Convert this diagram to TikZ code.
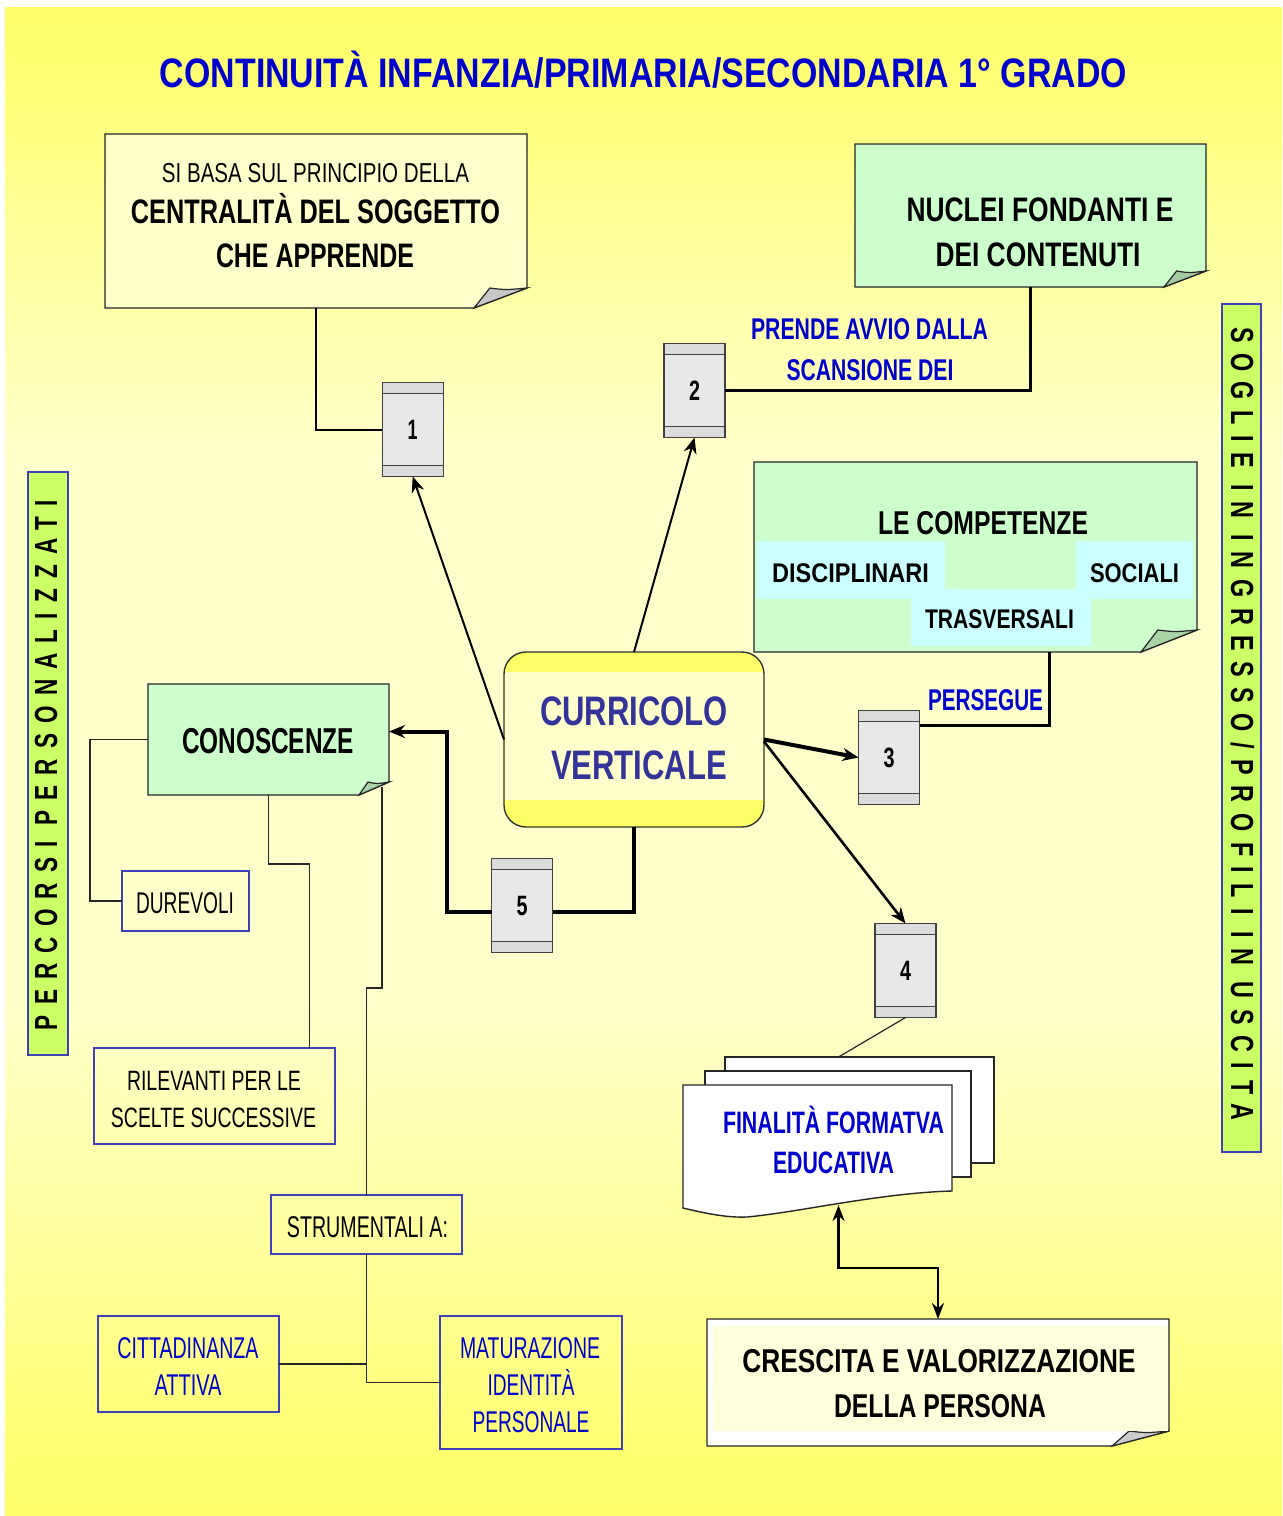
\documentclass[tikz,border=0pt]{standalone}
\usepackage{fontspec}
\setmainfont{Liberation Sans}
\usepackage{graphicx}
\usetikzlibrary{arrows.meta,fit}
\newdimen\px \px=0.5pt
\newcommand\fw[2]{\resizebox{#1\px}{\height}{#2}}
\newcommand\wgap{\hspace{0.7em}}
\definecolor{bgY}{HTML}{FFFF66}
\definecolor{bgP}{HTML}{FFFFCC}
\definecolor{tblue}{HTML}{0000CC}
\definecolor{cvblue}{HTML}{333399}
\definecolor{mint}{HTML}{CCFFCC}
\definecolor{mintdark}{HTML}{A8D4A8}
\definecolor{aqua}{HTML}{CCFFFF}
\definecolor{barlime}{HTML}{CCFF66}
\definecolor{bord}{HTML}{4040B8}
\definecolor{cardfill}{HTML}{E8E8E8}
\definecolor{bandfill}{HTML}{DCDCDC}
\newcommand\notebox[9]{%
  \node[hidden, fit={(#2,#3) (#4,#5)}] (#1) {};
  \filldraw[fill=#6, draw=black!85, line width=0.7pt] (#2,#3) -- (#4,#3) -- (#4,{#5-#9}) -- ({#4-#8},#5) -- (#2,#5) -- cycle;
  \filldraw[fill=#7, draw=black!85, line width=0.6pt] ({#4-#8},#5) .. controls ({#4-0.85*#8},{#5-0.5*#9}) .. ({#4-0.7*#8},{#5-#9}) .. controls ({#4-0.4*#8},{#5-#9+2}) .. (#4,{#5-#9}) -- cycle;
}
\tikzset{
  hidden/.style={inner sep=0pt, outer sep=0pt},
  lbl/.style={anchor=base, inner sep=0pt, outer sep=0pt},
  rb/.style={lbl, font=\fontsize{#1}{#1}\selectfont\bfseries},
  rr/.style={lbl, font=\fontsize{#1}{#1}\selectfont},
  plainbox/.style={draw=bord, line width=0.6pt, inner sep=0pt, outer sep=0pt},
  barbox/.style={draw=bord, line width=0.6pt, fill=barlime, inner sep=0pt, outer sep=0pt},
  bartext/.style={lbl, font=\fontsize{16}{16}\selectfont\bfseries\addfontfeatures{LetterSpace=45}},
  card/.style={rectangle, draw=black!75, line width=0.7pt, fill=cardfill,
    minimum width=30.5pt, minimum height=47pt, inner sep=0pt, outer sep=0pt,
    font=\fontsize{14}{14}\selectfont\bfseries,
    path picture={
      \fill[bandfill] (path picture bounding box.north west) rectangle ([yshift=-5.5pt]path picture bounding box.north east);
      \fill[bandfill] (path picture bounding box.south west) rectangle ([yshift=5.5pt]path picture bounding box.south east);
      \draw[black!75, line width=0.7pt] ([yshift=-5.5pt]path picture bounding box.north west) -- ([yshift=-5.5pt]path picture bounding box.north east);
      \draw[black!75, line width=0.7pt] ([yshift=5.5pt]path picture bounding box.south west) -- ([yshift=5.5pt]path picture bounding box.south east);
    }},
  conn/.style={draw=black, line width=1pt},
  thinln/.style={draw=black!85, line width=0.6pt},
  thickln/.style={draw=black, line width=2pt},
  tip/.style={-{Stealth[length=8pt,width=6.5pt]}},
}
\begin{document}
\begin{tikzpicture}[x=0.5pt,y=-0.5pt]
\useasboundingbox (0,0) rectangle (1282,1516);
\fill[white] (0,0) rectangle (1282,1516);
\shade[top color=bgY, bottom color=bgP] (5,7) rectangle (1282,460);
\fill[bgP] (5,459) rectangle (1282,1001);
\shade[top color=bgP, bottom color=bgY] (5,1000) rectangle (1282,1516);

% title
\node[rb=20.6, text=tblue] (title) at (643.5,87) {\fw{967}{CONTINUITÀ INFANZIA/PRIMARIA/SECONDARIA 1° GRADO}};

% side bars
\node[barbox, fit={(28,472) (68,1055)}] (lbar) {};
\node[bartext, rotate=90] (lbart) at (57,765) {\fw{530}{PERCORSI\wgap PERSONALIZZATI}};
\node[barbox, fit={(1222,304) (1261,1152)}] (rbar) {};
\node[bartext, rotate=-90] (rbart) at (1231,723.5) {\fw{793}{SOGLIE\wgap IN\wgap INGRESSO/PROFILI\wgap IN\wgap USCITA}};

% note boxes
\notebox{boxA}{105}{134}{527}{308}{bgP}{black!22}{53}{20}
\notebox{nuc}{855}{144}{1206}{287}{mint}{mint!80!black}{42}{16}
\notebox{comp}{754}{462}{1197}{652}{mint}{mintdark}{56}{22}
\fill[aqua] (757,541) rectangle (945,599);
\fill[aqua] (1076,541) rectangle (1193,599);
\fill[aqua] (911,589) rectangle (1091,646);
\notebox{con}{148}{684}{389}{795}{mint}{mintdark}{30}{13}
\notebox{cres}{707}{1319}{1169}{1446}{white}{black!20}{57}{15}
\fill[bgP!70!white] (713,1326) rectangle (1168,1431);

% curricolo
\node[hidden, fit={(504,652) (764,827)}, draw=black!80, line width=0.7pt, fill=bgY, rounded corners=11pt] (cv) {};
\fill[bgP] (505,672) rectangle (763,800);

% plain boxes
\node[plainbox, fit={(122,871) (249,931)}] (dur) {};
\node[plainbox, fit={(94,1048) (335,1144)}] (ril) {};
\node[plainbox, fit={(271,1195) (462,1254)}] (str) {};
\node[plainbox, fit={(98,1316) (279,1412)}] (cit) {};
\node[plainbox, fit={(440,1316) (622,1449)}] (mat) {};

% document stack
\node[hidden, fit={(683,1057) (994,1217)}] (fin) {};
\filldraw[fill=white, draw=black!85, line width=0.7pt] (725,1057) rectangle (994,1163);
\filldraw[fill=white, draw=black!85, line width=0.7pt] (705,1071) rectangle (971,1177);
\filldraw[fill=white, draw=black!85, line width=0.7pt] (683,1085) -- (952,1085) -- (952,1191) .. controls (880,1193) and (800,1212) .. (747,1217) .. controls (725,1218) and (700,1212) .. (683,1208) -- cycle;

% cards
\node[card] (c1) at (412.7,429.5) {\fw{10}{1}};
\node[card] (c2) at (694.5,390.5) {\fw{11}{2}};
\node[card] (c3) at (889,757.5) {\fw{11}{3}};
\node[card] (c4) at (905.5,970.5) {\fw{11}{4}};
\node[card] (c5) at (522,905.5) {\fw{11}{5}};

% texts
\node[rr=13.7] (a1) at (315.5,182) {\fw{307}{SI BASA SUL PRINCIPIO DELLA}};
\node[rb=17] (a2) at (315.5,223) {\fw{369}{CENTRALITÀ DEL SOGGETTO}};
\node[rb=17] (a3) at (315,267) {\fw{198}{CHE APPRENDE}};
\node[rb=17] (n1) at (1040,221) {\fw{267}{NUCLEI FONDANTI E}};
\node[rb=17] (n2) at (1038,266) {\fw{205}{DEI CONTENUTI}};
\node[rb=15, text=tblue] (p1) at (869.5,339) {\fw{237}{PRENDE AVVIO DALLA}};
\node[rb=15, text=tblue] (p2) at (870,380) {\fw{167}{SCANSIONE DEI}};
\node[rb=16.5] (k0) at (983,534) {\fw{210}{LE COMPETENZE}};
\node[rb=13.5] (k1) at (850.5,582) {\fw{157}{DISCIPLINARI}};
\node[rb=13.5] (k2) at (1134.5,582) {\fw{89}{SOCIALI}};
\node[rb=13.5] (k3) at (999.5,628.5) {\fw{149}{TRASVERSALI}};
\node[rb=15, text=tblue] (pers) at (985.5,710) {\fw{115}{PERSEGUE}};
\node[rb=20.6, text=cvblue] (cv1) at (634,725) {\fw{188}{CURRICOLO}};
\node[rb=20.6, text=cvblue] (cv2) at (639,779) {\fw{176}{VERTICALE}};
\node[rb=18] (cont) at (268,753) {\fw{172}{CONOSCENZE}};
\node[rr=15] (durt) at (185,913) {\fw{98}{DUREVOLI}};
\node[rr=14] (rilt1) at (214,1090) {\fw{174}{RILEVANTI PER LE}};
\node[rr=14] (rilt2) at (213.5,1127) {\fw{205}{SCELTE SUCCESSIVE}};
\node[rr=15] (strt) at (367.5,1237) {\fw{161}{STRUMENTALI A:}};
\node[rr=15, text=tblue] (cit1) at (188,1358) {\fw{141}{CITTADINANZA}};
\node[rr=15, text=tblue] (cit2) at (188,1395) {\fw{67}{ATTIVA}};
\node[rr=15, text=tblue] (mat1) at (530,1358) {\fw{140}{MATURAZIONE}};
\node[rr=15, text=tblue] (mat2) at (531,1395) {\fw{87}{IDENTITÀ}};
\node[rr=15, text=tblue] (mat3) at (531,1432) {\fw{117}{PERSONALE}};
\node[rb=15.5, text=tblue] (fin1) at (833.5,1133) {\fw{221}{FINALITÀ FORMATVA}};
\node[rb=15.5, text=tblue] (fin2) at (833.5,1173) {\fw{121}{EDUCATIVA}};
\node[rb=16.5] (cr1) at (939,1372) {\fw{393}{CRESCITA E VALORIZZAZIONE}};
\node[rb=16.5] (cr2) at (940,1417) {\fw{212}{DELLA PERSONA}};

% connectors
\draw[conn] (boxA.south) |- (c1.west);
\draw[conn, line width=1.2pt] (c2.east) -| (nuc.south);
\draw[conn, line width=1.2pt] ([xshift=37pt]comp.south) |- ([yshift=16pt]c3.east);
\draw[thickln, tip] (cv.east) -- (c3.west);
\draw[conn, line width=1.3pt, tip] ([yshift=-1pt]cv.east) -- (c4.north);
\draw[conn, tip] (cv.west) -- (c1.south);
\draw[conn, tip] (cv.north) -- (c2.south);
\draw[thickln] (cv.south) |- ([yshift=-3pt]c5.east);
\draw[thickln, tip] ([yshift=-3pt]c5.west) -- ++(-45,0) |- ([yshift=4pt]con.east);
\draw[thinln] (c4.south) -- (fin.north);
\draw[conn, line width=1.2pt, {Stealth[length=8pt,width=6pt]}-{Stealth[length=8pt,width=6pt]}] ([yshift=6pt]fin.south) -- ++(0,63) -| (cres.north);
\draw[thinln] (con.west) -- ++(-58,0) |- (dur.west);
\draw[thinln] (con.south) -- ++(0,69) -| ([xshift=47.5pt]ril.north);
\draw[thinln] ([xshift=-3.5pt,yshift=4pt]con.south east) -- ++(0,201) -| (str.north);
\draw[thinln] (str.south) |- (mat.west);
\draw[thinln] (cit.east) -| (str.south);
\end{tikzpicture}
\end{document}
